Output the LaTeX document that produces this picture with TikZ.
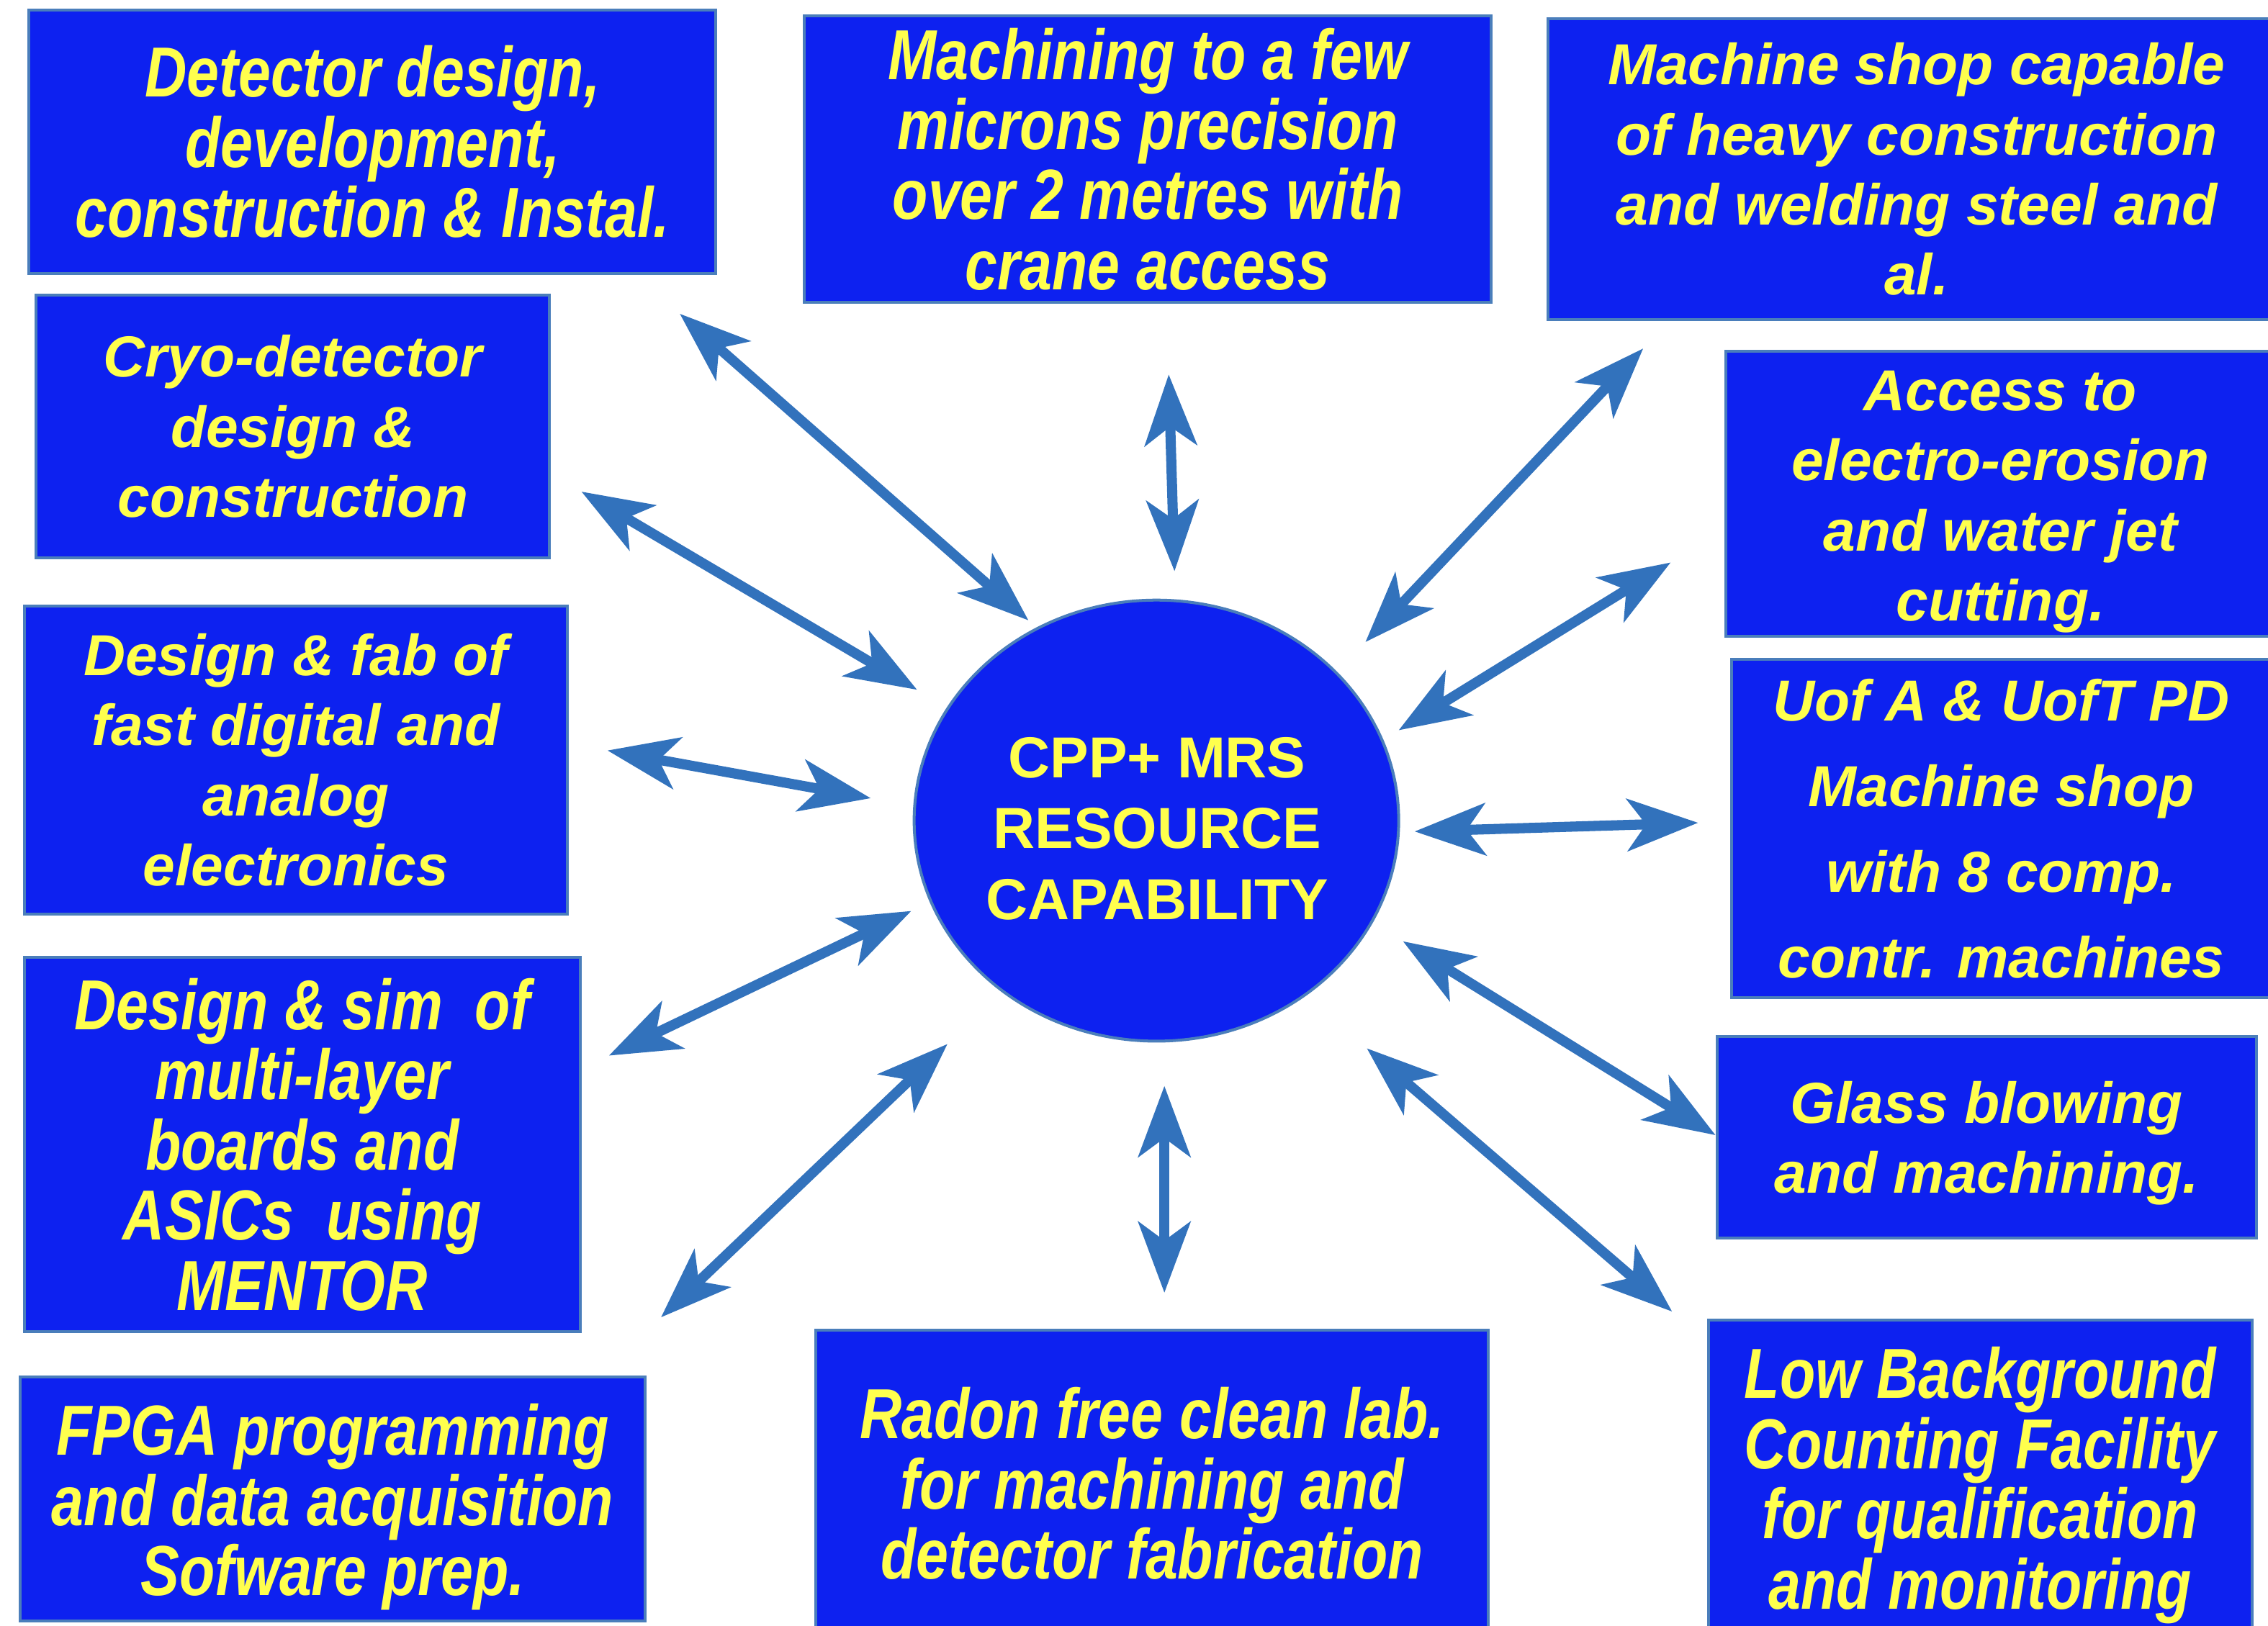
\documentclass[tikz,border=0pt]{standalone}
\usepackage{fontspec}
\setmainfont{Liberation Sans}
\newfontfamily\narrowfont{Liberation Sans}[FakeStretch=0.82]
\usetikzlibrary{arrows.meta,shapes.geometric}
\definecolor{boxblue}{RGB}{13,33,240}
\definecolor{edgeblue}{RGB}{74,126,187}
\definecolor{txtyellow}{RGB}{255,255,77}
\definecolor{arrowblue}{RGB}{50,114,188}
\newcommand{\lift}[1]{\rule{0pt}{#1pt}}
\begin{document}
\begin{tikzpicture}[x=1pt,y=-1pt,
  card/.style={draw=edgeblue, line width=2pt, fill=boxblue, text=txtyellow, align=center, inner sep=0pt,
    font=\bfseries\itshape\fontsize{40}{48.5}\selectfont},
  narrowcard/.style={card, font=\narrowfont\bfseries\itshape\fontsize{49}{48.5}\selectfont},
  hubtext/.style={text=txtyellow, align=center, inner sep=0pt, font=\bfseries\fontsize{40}{49}\selectfont},
  link/.style={draw=arrowblue, line width=7pt,
    {Stealth[length=49pt,width=36pt,inset=13pt]}-{Stealth[length=49pt,width=36pt,inset=13pt]}}]
\useasboundingbox (0,0) rectangle (1568,1124);
\clip (0,0) rectangle (1568,1124);
\fill[white] (0,0) rectangle (1568,1124);

% boxes
\node[narrowcard, minimum width=475, minimum height=182] (det) at (257.5,98)
  {Detector design,\\development,\\construction \& Instal.};
\node[narrowcard, minimum width=475, minimum height=198] (mach) at (793.5,110)
  {Machining to a few\\microns precision\\over 2 metres with\\crane access};
\node[card, minimum width=510, minimum height=208] (heavy) at (1325,117)
  {Machine shop capable\\of heavy construction\\and welding steel and\\al.};
\node[card, minimum width=355, minimum height=182] (cryo) at (202.5,295)
  {Cryo-detector\\design \&\\construction};
\node[card, minimum width=380, minimum height=197] (access) at (1383,341.5)
  {\lift{38.6}Access to\\electro-erosion\\and water jet\\cutting.};
\node[card, minimum width=375, minimum height=213] (fab) at (204.5,525.5)
  {Design \& fab of\\fast digital and\\analog\\electronics};
\node[card, minimum width=373, minimum height=234, font=\bfseries\itshape\fontsize{40}{59.3}\selectfont] (uofa) at (1383.5,573)
  {Uof A \& UofT PD\\Machine shop\\with 8 comp.\\contr. machines};
\node[narrowcard, minimum width=384, minimum height=259] (sim) at (209,791.5)
  {Design \& sim\ \ of\\multi-layer\\boards and\\ASICs\ \ using\\MENTOR};
\node[card, minimum width=373, minimum height=139] (glass) at (1373.5,786.5)
  {\lift{37.2}Glass blowing\\and machining.};
\node[narrowcard, minimum width=432, minimum height=169] (fpga) at (230,1036.5)
  {\lift{46.8}FPGA programming\\and data acquisition\\Sofware prep.};
\node[narrowcard, minimum width=465, minimum height=212] (radon) at (796.5,1026)
  {Radon free clean lab.\\for machining and\\detector fabrication};
\node[narrowcard, minimum width=376, minimum height=220] (lowbg) at (1369,1023)
  {\lift{43.8}Low Background\\Counting Facility\\for qualification\\and monitoring};

% hub
\node[ellipse, draw=edgeblue, line width=2pt, fill=boxblue, minimum width=335, minimum height=305, inner sep=0pt] (hub) at (799.5,567.5) {};
\node[hubtext] (hubtxt) at (800,573) {CPP+ MRS\\RESOURCE\\CAPABILITY};

% arrow ends
\coordinate (a1s) at (470,217);  \coordinate (a1e) at (711,429);
\coordinate (a2s) at (808,259);  \coordinate (a2e) at (812,395);
\coordinate (a3s) at (1136,241); \coordinate (a3e) at (944,444);
\coordinate (a4s) at (402,340);  \coordinate (a4e) at (634,477);
\coordinate (a5s) at (1155,389); \coordinate (a5e) at (967,505);
\coordinate (a6s) at (420,519);  \coordinate (a6e) at (602,552);
\coordinate (a7s) at (978,575);  \coordinate (a7e) at (1174,569);
\coordinate (a8s) at (630,630);  \coordinate (a8e) at (421,730);
\coordinate (a9s) at (970,651);  \coordinate (a9e) at (1186,785);
\coordinate (a10s) at (655,722); \coordinate (a10e) at (457,911);
\coordinate (a11s) at (805,751); \coordinate (a11e) at (805,894);
\coordinate (a12s) at (945,725); \coordinate (a12e) at (1156,907);

\draw[link] (a1s) -- (a1e);
\draw[link] (a2s) -- (a2e);
\draw[link] (a3s) -- (a3e);
\draw[link] (a4s) -- (a4e);
\draw[link] (a5s) -- (a5e);
\draw[link] (a6s) -- (a6e);
\draw[link] (a7s) -- (a7e);
\draw[link] (a8s) -- (a8e);
\draw[link] (a9s) -- (a9e);
\draw[link] (a10s) -- (a10e);
\draw[link] (a11s) -- (a11e);
\draw[link] (a12s) -- (a12e);
\end{tikzpicture}
\end{document}
